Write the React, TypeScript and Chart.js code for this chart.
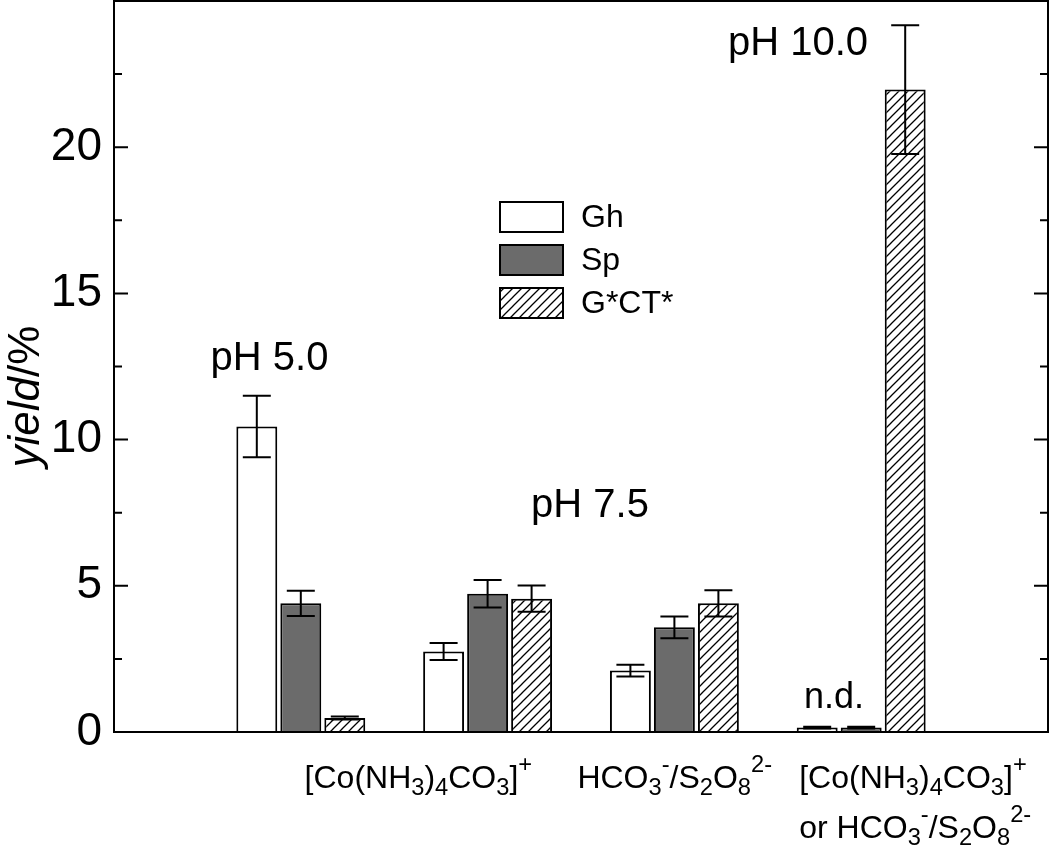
import React, { useEffect, useRef } from 'react';
import { Chart, registerables } from 'chart.js';

Chart.register(...registerables);

const FONT = "'Liberation Sans', Arial, Helvetica, sans-serif";

// x categories (positions 0..5, groups at 1..4)
const categories = ['', 'pH 5.0', '[Co(NH3)4CO3]+', 'HCO3-/S2O8 2-', 'pH 10.0 either', ''];

const seriesNames = ['Gh', 'Sp', 'G*CT*'];
const ghValues = [null, 10.45, 2.75, 2.1, 0.15, null];
const ghErrors = [null, 1.05, 0.29, 0.2, 0.03, null];
const spValues = [null, 4.4, 4.73, 3.58, 0.15, null];
const spErrors = [null, 0.43, 0.47, 0.37, 0.03, null];
const gctValues = [null, 0.48, 4.56, 4.4, 21.97, null];
const gctErrors = [null, 0.05, 0.45, 0.45, 2.2, null];

const yMin = 0;
const yMax = 25;
const yStep = 2.5;
const yLabelEvery = 5;

// rich text segments: [text, kind]
const coLabel: [string, string][] = [
  ['[Co(NH', ''], ['3', 'sub'], [')', ''], ['4', 'sub'], ['CO', ''], ['3', 'sub'], [']', ''], ['+', 'sup'],
];
const hcoLabel: [string, string][] = [
  ['HCO', ''], ['3', 'sub'], ['-', 'sup'], ['/S', ''], ['2', 'sub'], ['O', ''], ['8', 'sub'], ['2-', 'sup'],
];
const orHcoLabel: [string, string][] = [['or ', ''], ...hcoLabel];

// x-axis labels: category index, lines
const xLabelCats = [2, 3, 4];
const xLabelLines = [[coLabel], [hcoLabel], [coLabel, orHcoLabel]];
const xLabelDx = [-183, -97, -62];

// annotations inside plot: text, x (category units), y (data units), font size
const annTexts = ['pH 5.0', 'pH 7.5', 'pH 10.0', 'n.d.'];
const annX = [0.8325, 2.548, 3.662, 3.854];
const annY = [12.38, 7.35, 23.15, 0.82];
const annSize = [40, 40, 40, 36];

function makeHatch(ctx: CanvasRenderingContext2D): CanvasPattern | string {
  const s = 9;
  const c = document.createElement('canvas');
  c.width = s;
  c.height = s;
  const g = c.getContext('2d');
  if (!g) return '#fff';
  g.fillStyle = '#fff';
  g.fillRect(0, 0, s, s);
  g.strokeStyle = '#000';
  g.lineWidth = 1.3;
  g.beginPath();
  g.moveTo(-1, s + 1);
  g.lineTo(s + 1, -1);
  g.moveTo(-2, 2);
  g.lineTo(2, -2);
  g.moveTo(s - 2, s + 2);
  g.lineTo(s + 2, s - 2);
  g.stroke();
  return ctx.createPattern(c, 'repeat') || '#fff';
}

function drawRich(ctx: CanvasRenderingContext2D, segs: [string, string][], x: number, baseline: number, size: number) {
  let cx = x;
  ctx.textAlign = 'left';
  ctx.textBaseline = 'alphabetic';
  for (const [t, kind] of segs) {
    const fs = kind ? size * 0.74 : size;
    const dy = kind === 'sub' ? size * 0.22 : kind === 'sup' ? -size * 0.5 : 0;
    ctx.font = `${fs}px ${FONT}`;
    ctx.fillText(t, cx, baseline + dy);
    cx += ctx.measureText(t).width;
  }
}

const decorPlugin = {
  id: 'decor',
  afterDatasetsDraw(chart: any) {
    const ctx = chart.ctx as CanvasRenderingContext2D;
    const ys = chart.scales.y;
    const errs = [ghErrors, spErrors, gctErrors];
    const vals = [ghValues, spValues, gctValues];
    ctx.save();
    ctx.strokeStyle = '#000';
    ctx.lineWidth = 2;
    for (let d = 0; d < 3; d++) {
      const meta = chart.getDatasetMeta(d);
      meta.data.forEach((el: any, i: number) => {
        const v = vals[d][i];
        const e = errs[d][i];
        if (v == null || e == null) return;
        const x = el.x;
        const yt = ys.getPixelForValue(v + e);
        const yb = ys.getPixelForValue(v - e);
        const cap = 14;
        ctx.beginPath();
        ctx.moveTo(x, yt);
        ctx.lineTo(x, yb);
        ctx.moveTo(x - cap, yt);
        ctx.lineTo(x + cap, yt);
        ctx.moveTo(x - cap, yb);
        ctx.lineTo(x + cap, yb);
        ctx.stroke();
      });
    }
    ctx.restore();
  },
  afterDraw(chart: any) {
    const ctx = chart.ctx as CanvasRenderingContext2D;
    const { left, right, top, bottom } = chart.chartArea;
    const xs = chart.scales.x;
    const ys = chart.scales.y;
    ctx.save();
    ctx.strokeStyle = '#000';
    ctx.fillStyle = '#000';
    ctx.lineWidth = 2;
    // frame
    ctx.strokeRect(left, top, right - left, bottom - top);
    // inward ticks left/right
    ys.ticks.forEach((t: any) => {
      const y = ys.getPixelForValue(t.value);
      const major = Math.abs(t.value % yLabelEvery) < 1e-6;
      const len = major ? 14 : 8;
      ctx.beginPath();
      ctx.moveTo(left, y);
      ctx.lineTo(left + len, y);
      ctx.moveTo(right, y);
      ctx.lineTo(right - len, y);
      ctx.stroke();
    });
    // y title
    ctx.save();
    ctx.translate(27, (top + bottom) / 2 + 30);
    ctx.rotate(-Math.PI / 2);
    ctx.textBaseline = 'middle';
    ctx.font = `italic 44px ${FONT}`;
    const w1 = ctx.measureText('yield').width;
    ctx.font = `44px ${FONT}`;
    const w2 = ctx.measureText('/%').width;
    const sx = -(w1 + w2) / 2;
    ctx.textAlign = 'left';
    ctx.font = `italic 44px ${FONT}`;
    ctx.fillText('yield', sx, 0);
    ctx.font = `44px ${FONT}`;
    ctx.fillText('/%', sx + w1, 0);
    ctx.restore();
    // annotations
    ctx.textAlign = 'center';
    ctx.textBaseline = 'alphabetic';
    annTexts.forEach((t, i) => {
      ctx.font = `${annSize[i]}px ${FONT}`;
      ctx.fillText(t, xs.getPixelForValue(annX[i]), ys.getPixelForValue(annY[i]));
    });
    // x labels
    xLabelCats.forEach((ci, i) => {
      const x0 = xs.getPixelForValue(ci) + xLabelDx[i];
      xLabelLines[i].forEach((segs, li) => {
        drawRich(ctx, segs, x0, bottom + 56 + li * 50, 32);
      });
    });
    // legend
    const lx = left + 386;
    const ly = top + 201;
    chart.data.datasets.forEach((ds: any, i: number) => {
      const by = ly + i * 43;
      ctx.fillStyle = ds.backgroundColor;
      ctx.fillRect(lx, by, 63, 30);
      ctx.lineWidth = 2;
      ctx.strokeStyle = '#000';
      ctx.strokeRect(lx, by, 63, 30);
      ctx.fillStyle = '#000';
      ctx.font = `32px ${FONT}`;
      ctx.textAlign = 'left';
      ctx.textBaseline = 'middle';
      ctx.fillText(ds.label, lx + 81, by + 16);
    });
    ctx.restore();
  },
};

export default function App() {
  const ref = useRef<HTMLCanvasElement>(null);
  useEffect(() => {
    const canvas = ref.current;
    if (!canvas) return;
    const ctx = canvas.getContext('2d');
    if (!ctx) return;
    const hatch = makeHatch(ctx);
    Chart.defaults.font.family = FONT;
    const chart = new Chart(ctx, {
      type: 'bar',
      data: {
        labels: categories,
        datasets: [
          { label: seriesNames[0], data: ghValues as any, backgroundColor: '#ffffff', borderColor: '#000', borderWidth: 2 },
          { label: seriesNames[1], data: spValues as any, backgroundColor: '#6b6b6b', borderColor: '#000', borderWidth: 2 },
          { label: seriesNames[2], data: gctValues as any, backgroundColor: hatch as any, borderColor: '#000', borderWidth: 2 },
        ],
      },
      options: {
        responsive: false,
        animation: false,
        events: [],
        categoryPercentage: 0.7066,
        barPercentage: 0.93,
        layout: { padding: { left: 0, right: 2, top: 1, bottom: 0 } },
        plugins: { legend: { display: false }, tooltip: { enabled: false }, title: { display: false } },
        scales: {
          x: {
            type: 'category',
            offset: false,
            grid: { display: false, drawTicks: false },
            border: { display: false },
            ticks: { display: false },
            afterFit: (s: any) => { s.height = 117; s.paddingLeft = 0; s.paddingRight = 0; },
          },
          y: {
            min: yMin,
            max: yMax,
            grid: { display: false, drawTicks: false },
            border: { display: false },
            ticks: {
              stepSize: yStep,
              autoSkip: false,
              padding: 12,
              color: '#000',
              font: { size: 46, family: FONT },
              callback: (v: any) => (Math.abs(v % yLabelEvery) < 1e-6 && v < yMax ? String(v) : ''),
            },
            afterFit: (s: any) => { s.width = 114; s.paddingTop = 0; s.paddingBottom = 0; },
          },
        },
      } as any,
      plugins: [decorPlugin],
    });
    return () => chart.destroy();
  }, []);
  return (
    <div style={{ position: 'fixed', left: 0, top: 0, width: 1050, height: 849, background: '#fff' }}>
      <canvas ref={ref} width={1050} height={849} style={{ width: 1050, height: 849, display: 'block' }} />
    </div>
  );
}
